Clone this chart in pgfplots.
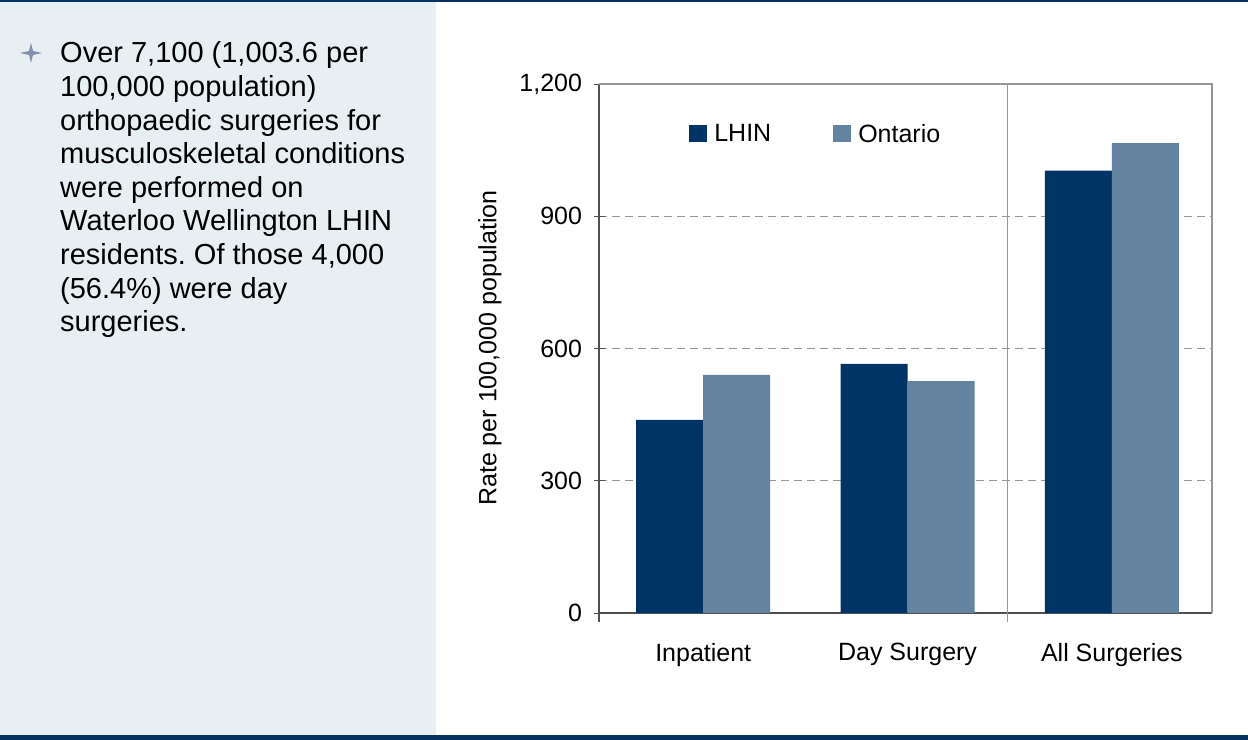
\documentclass[border=0pt]{standalone}
\usepackage{fontspec}
\setmainfont{Liberation Sans}
\usepackage{pgfplots}
\pgfplotsset{compat=1.18}
\frenchspacing
\definecolor{lhin}{RGB}{0,51,102}
\definecolor{ont}{RGB}{100,131,160}
\definecolor{panel}{RGB}{232,239,243}
\definecolor{navyline}{RGB}{4,51,95}
\definecolor{starcol}{RGB}{128,146,176}
\definecolor{gridc}{RGB}{150,150,150}
\definecolor{axdark}{RGB}{80,80,80}
\begin{document}
\begin{tikzpicture}[x=1bp,y=1bp]
\useasboundingbox (0,0) rectangle (1248,740);
\fill[white] (0,0) rectangle (1248,740);
\fill[panel] (0,5) rectangle (436,738);
\fill[navyline] (0,737.5) rectangle (1248,740);
\fill[navyline] (0,0) rectangle (1248,5);
% bullet star
\fill[starcol] (31,697) -- (33,689) -- (42,687) -- (33,685) -- (31,677) -- (29,685) -- (20,687) -- (29,689) -- cycle;
% text lines
\begin{scope}[every node/.style={anchor=base west, inner sep=0pt, font=\fontsize{29bp}{33bp}\selectfont}]
\node at (60,677) {Over 7,100 (1,003.6 per};
\node at (60,643.4) {100,000 population)};
\node at (60,609.8) {orthopaedic surgeries for};
\node at (60,576.2) {musculoskeletal conditions};
\node at (60,542.6) {were performed on};
\node at (60,509.0) {Waterloo Wellington LHIN};
\node at (60,475.4) {residents. Of those 4,000};
\node at (60,441.8) {(56.4\%) were day};
\node at (60,408.2) {surgeries.};
\end{scope}
\begin{axis}[
  at={(599bp,127bp)}, anchor=south west,
  scale only axis, width=613bp, height=529bp,
  xmin=-0.51, xmax=2.49, ymin=0, ymax=1200,
  axis x line*=bottom, axis y line*=left,
  axis line style={axdark, line width=1.2pt},
  xtick={0,1,2},
  xticklabels={Inpatient, Day Surgery, All Surgeries},
  x tick style={draw=none},
  ytick={0,300,600,900,1200},
  y tick style={axdark, line width=0.8pt},
  major tick length=11bp, tick align=center,
  /pgf/number format/1000 sep={,},
  /pgf/number format/assume math mode=true,
  yticklabel style={font=\fontsize{25bp}{29bp}\selectfont, xshift=-8bp},
  xticklabel style={font=\fontsize{25bp}{29bp}\selectfont, yshift=-16bp},
  ymajorgrids,
  grid style={gridc, line width=0.8pt, dash pattern=on 8bp off 5bp},
  ybar=0pt, bar width=67bp,
  legend columns=2,
  legend style={draw=none, fill=none, at={(0.147,0.9055)}, anchor=west, inner sep=0pt,
    font=\fontsize{25bp}{29bp}\selectfont,
    /tikz/every even column/.append style={column sep=60bp}},
  legend image code/.code={\fill[#1,draw=none] (0bp,-8.5bp) rectangle (18bp,8.5bp); \path (23bp,0bp);},
  clip=false,
]
\addplot[fill=lhin, draw=none] coordinates {(0,438) (1,565) (2,1003.6)};
\addplot[fill=ont, draw=none] coordinates {(0,540) (1,526) (2,1066)};
\legend{LHIN, Ontario}
\draw[gridc, line width=1.2pt] (rel axis cs:0,1) -- (rel axis cs:1,1) -- (rel axis cs:1,0);
\draw[gridc, line width=0.8pt] (axis cs:1.49,1200) -- ([yshift=-9bp]axis cs:1.49,0);
\draw[axdark, line width=1.2pt] (axis cs:-0.51,0) -- ([yshift=-9bp]axis cs:-0.51,0);
\end{axis}
\node[rotate=90, font=\fontsize{25bp}{29bp}\selectfont] at (490,392) {Rate per 100,000 population};
\end{tikzpicture}
\end{document}
